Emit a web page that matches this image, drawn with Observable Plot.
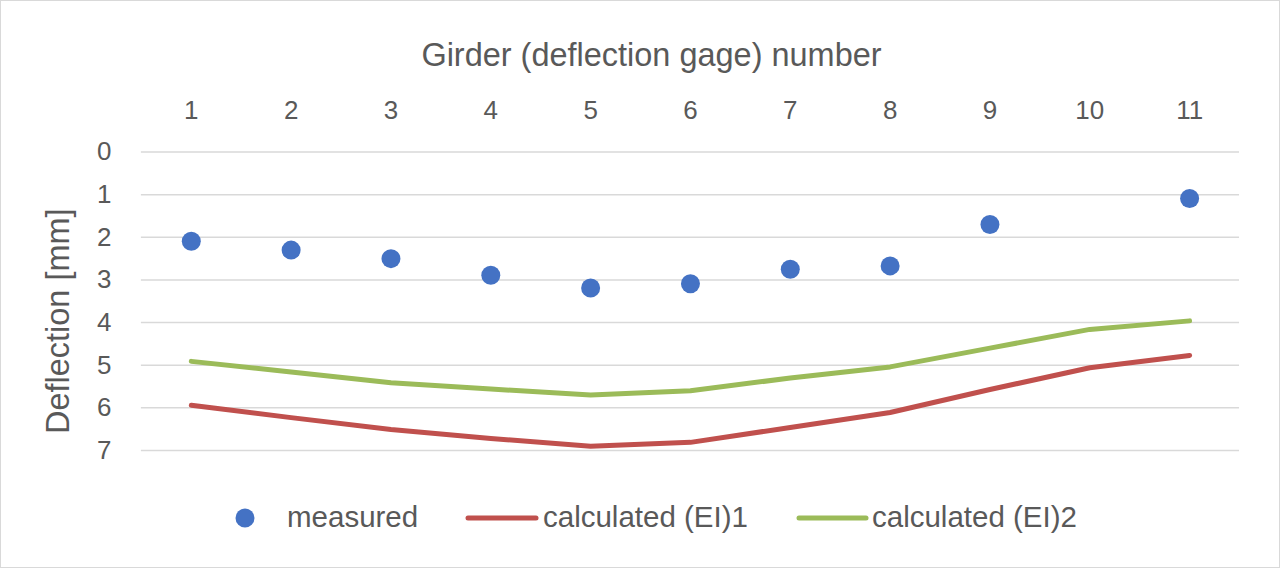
<!DOCTYPE html>
<html><head><meta charset="utf-8">
<script src="https://cdn.jsdelivr.net/npm/d3@7"></script>
<script src="https://cdn.jsdelivr.net/npm/@observablehq/plot@0.6"></script>
<style>
html,body{margin:0;padding:0;background:#fff;}
#wrap{position:relative;width:1280px;height:568px;box-sizing:border-box;border:1px solid #d9d9d9;font-family:"Liberation Sans",Arial,sans-serif;color:#595959;overflow:hidden;background:#fff}
#chart{position:absolute;left:-1px;top:-1px;}
#legend{position:absolute;left:-1px;top:479px;}
</style></head>
<body>
<div id="wrap"><div id="chart"></div><div id="legend"></div></div>
<script>
const girders = [1,2,3,4,5,6,7,8,9,10,11];
const measured = [2.09, 2.30, 2.50, 2.89, 3.19, 3.09, 2.75, 2.67, 1.70, null, 1.09];
const calc1 = [5.94, 6.23, 6.51, 6.72, 6.90, 6.81, 6.46, 6.11, 5.57, 5.06, 4.77];
const calc2 = [4.91, 5.16, 5.41, 5.56, 5.70, 5.60, 5.30, 5.04, 4.60, 4.16, 3.96];
const yTicks = [0,1,2,3,4,5,6,7];
const seriesNames = ["measured", "calculated (EI)1", "calculated (EI)2"];
const colors = ["#4472C4", "#C0504D", "#9BBB59"];

const rows = girders.map((g,i)=>({g, m: measured[i], c1: calc1[i], c2: calc2[i]}));
const font = '"Liberation Sans", Arial, sans-serif';

const chart = Plot.plot({
  width:1280, height:480,
  marginLeft:141, marginRight:40, marginTop:151.7, marginBottom:29.7,
  style:{fontFamily:font, fontSize:"26px", color:"#595959", background:"transparent"},
  x:{domain:[0.5,11.5]},
  y:{domain:[0,7], reverse:true},
  marks:[
    Plot.gridY(yTicks, {stroke:"#d9d9d9", strokeOpacity:1, strokeWidth:1.5}),
    Plot.axisX(girders, {anchor:"top", tickSize:0, tickPadding:33, fontSize:26, label:null, fill:"#595959"}),
    Plot.axisY(yTicks, {anchor:"left", tickSize:0, tickPadding:30, fontSize:26, label:null, fill:"#595959"}),
    Plot.line(rows, {x:"g", y:"c1", stroke:colors[1], strokeWidth:5, strokeLinejoin:"round", strokeLinecap:"round"}),
    Plot.line(rows, {x:"g", y:"c2", stroke:colors[2], strokeWidth:5, strokeLinejoin:"round", strokeLinecap:"round"}),
    Plot.dot(rows.filter(d=>d.m!=null), {x:"g", y:"m", r:9.5, fill:colors[0]}),
    Plot.text(["Girder (deflection gage) number"], {frameAnchor:"top", dx:-39, dy:-85.7, lineAnchor:"bottom", textAnchor:"middle", fontSize:32.5, fill:"#595959"}),
    Plot.text(["Deflection [mm]"], {frameAnchor:"left", dx:-83, dy:20, rotate:-90, textAnchor:"middle", fontSize:32.5, fill:"#595959"})
  ]
});
document.getElementById("chart").appendChild(chart);

// legend
const leg = d3.select("#legend").append("svg").attr("width",1280).attr("height",88)
  .style("font-family", font).style("font-size","29.5px");
const ly = 38;
leg.append("circle").attr("cx",245).attr("cy",ly).attr("r",9.5).attr("fill",colors[0]);
leg.append("text").attr("x",287).attr("y",ly+9).attr("fill","#595959").text(seriesNames[0]);
leg.append("line").attr("x1",468).attr("x2",536).attr("y1",ly).attr("y2",ly).attr("stroke",colors[1]).attr("stroke-width",5).attr("stroke-linecap","round");
leg.append("text").attr("x",543).attr("y",ly+9).attr("fill","#595959").text(seriesNames[1]);
leg.append("line").attr("x1",799).attr("x2",866).attr("y1",ly).attr("y2",ly).attr("stroke",colors[2]).attr("stroke-width",5).attr("stroke-linecap","round");
leg.append("text").attr("x",872).attr("y",ly+9).attr("fill","#595959").text(seriesNames[2]);
</script>
</body></html>
